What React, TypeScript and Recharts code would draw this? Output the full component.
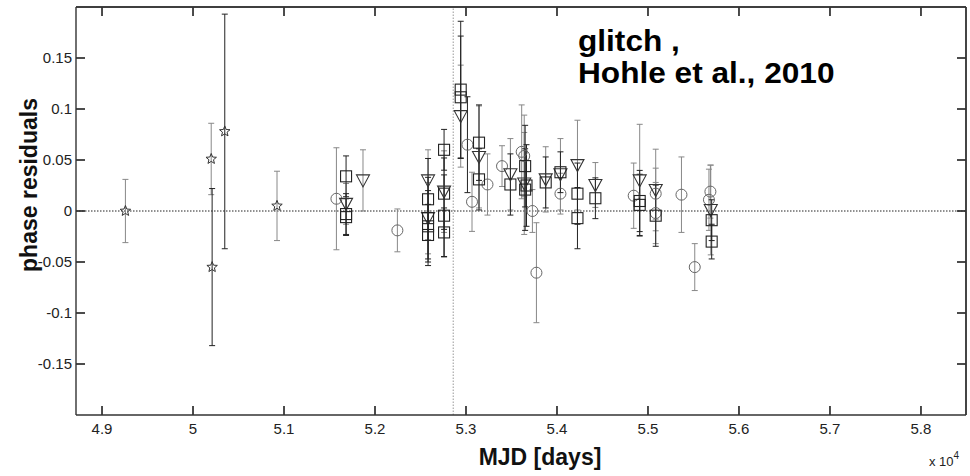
import React from 'react';
import { ScatterChart, Scatter, XAxis, YAxis, ErrorBar, ReferenceLine } from 'recharts';

type Row = [number, number, number]; // [MJD, residual, error]

const xTicks = [49000, 50000, 51000, 52000, 53000, 54000, 55000, 56000, 57000, 58000];
const yTicks = [-0.15, -0.1, -0.05, 0, 0.05, 0.1, 0.15];
const xDomain = [48714, 58495];
const yDomain = [-0.2, 0.2];
const glitchMJD = 52860;

const starsGrayErr: Row[] = [
  [49257, 0.0, 0.031],
  [50200, 0.051, 0.035],
  [50923, 0.005, 0.034],
];
const starsBlackErr: Row[] = [
  [50210, -0.055, 0.077],
  [50349, 0.078, 0.115],
];

const circlesGrayErr: Row[] = [
  [51576, 0.012, 0.05],
  [52246, -0.019, 0.021],
  [53066, 0.009, 0.029],
  [53236, 0.026, 0.03],
  [53396, 0.044, 0.02],
  [53612, 0.058, 0.046],
  [53640, 0.054, 0.04],
  [53730, 0.0, 0.021],
  [53774, -0.0605, 0.049],
  [54038, 0.017, 0.02],
  [54843, 0.015, 0.032],
  [55085, 0.017, 0.025],
  [55085, -0.002, 0.03],
  [55368, 0.016, 0.037],
  [55514, -0.055, 0.023],
  [55686, 0.019, 0.026],
  [55670, 0.011, 0.03],
];
const circlesBlackErr: Row[] = [
  [53016, 0.065, 0.047],
];

const squares: Row[] = [
  [51682, 0.034, 0.02],
  [51682, -0.003, 0.02],
  [51682, -0.006, 0.018],
  [52583, 0.0115, 0.04],
  [52583, -0.007, 0.04],
  [52583, -0.015, 0.035],
  [52583, -0.0235, 0.03],
  [52759, 0.06, 0.02],
  [52759, 0.017, 0.035],
  [52759, -0.0046, 0.04],
  [52759, -0.021, 0.024],
  [52942, 0.119, 0.067],
  [52942, 0.1115, 0.06],
  [53143, 0.067, 0.037],
  [53143, 0.031, 0.03],
  [53488, 0.026, 0.03],
  [53650, 0.044, 0.04],
  [53650, 0.021, 0.04],
  [53665, 0.025, 0.04],
  [53876, 0.028, 0.025],
  [54038, 0.038, 0.02],
  [54225, 0.017, 0.03],
  [54225, -0.007, 0.03],
  [54422, 0.0125, 0.02],
  [54909, 0.0098, 0.03],
  [54909, 0.006, 0.03],
  [55085, -0.0046, 0.03],
  [55700, -0.009, 0.02],
  [55700, -0.03, 0.017],
];

const triangles: Row[] = [
  [51682, 0.007, 0.02],
  [51868, 0.03, 0.03],
  [52583, 0.03, 0.03],
  [52583, -0.007, 0.035],
  [52759, 0.019, 0.04],
  [52942, 0.093, 0.05],
  [53143, 0.053, 0.05],
  [53488, 0.036, 0.035],
  [53640, 0.027, 0.05],
  [53876, 0.031, 0.032],
  [54038, 0.036, 0.035],
  [54225, 0.045, 0.044],
  [54422, 0.0255, 0.022],
  [54909, 0.03, 0.055],
  [55085, 0.0206, 0.04],
  [55690, 0.001, 0.044],
];

const toPts = (rows: Row[]) => rows.map(([x, y, err]) => ({ x, y, err }));

const starsGrayPts = toPts(starsGrayErr);
const starsBlackPts = toPts(starsBlackErr);
const circlesGrayPts = toPts(circlesGrayErr);
const circlesBlackPts = toPts(circlesBlackErr);
const squarePts = toPts(squares);
const trianglePts = toPts(triangles);

const FONT = '"Liberation Sans", Arial, Helvetica, sans-serif';
const AXIS = '#333';
const TICK_LEN = 9;
const OFF = 8; // default tickSize (6) + tickMargin (2)
// inward tick length (~9px) expressed as a fraction of each axis span
const TICK_DX = (xDomain[1] - xDomain[0]) * 0.0101;
const TICK_DY = (yDomain[1] - yDomain[0]) * 0.022;

const CircleShape = (p: any) => (
  <circle cx={p.cx} cy={p.cy} r={5.5} fill="none" stroke="#666" strokeWidth={1} />
);
const SquareShape = (p: any) => (
  <rect x={p.cx - 5.5} y={p.cy - 5.5} width={11} height={11} fill="none" stroke="#222" strokeWidth={1.1} />
);
const TriShape = (p: any) => (
  <path
    d={`M${p.cx - 6.5},${p.cy - 5.5}L${p.cx + 6.5},${p.cy - 5.5}L${p.cx},${p.cy + 6.5}Z`}
    fill="none"
    stroke="#333"
    strokeWidth={1.1}
  />
);
const StarShape = (p: any) => {
  const R = 5.5, r = 2.4;
  let d = '';
  for (let i = 0; i < 10; i++) {
    const a = -Math.PI / 2 + (i * Math.PI) / 5;
    const rad = i % 2 === 0 ? R : r;
    d += `${i === 0 ? 'M' : 'L'}${p.cx + rad * Math.cos(a)},${p.cy + rad * Math.sin(a)}`;
  }
  return <path d={d + 'Z'} fill="none" stroke="#333" strokeWidth={1} />;
};

const fmtX = (v: number) => String(Math.round(v / 100) / 100);
const fmtY = (v: number) => String(Math.round(v * 100) / 100);

const BottomTick = (p: any) => (
  <g>
    <line x1={p.x} x2={p.x} y1={p.y - OFF} y2={p.y - OFF - TICK_LEN} stroke={AXIS} strokeWidth={1.3} />
    <text x={p.x} y={p.y + 11} textAnchor="middle" fontSize={15} fontFamily={FONT} fill="#222">
      {fmtX(p.payload.value)}
    </text>
  </g>
);
const TopTick = (p: any) => (
  <line x1={p.x} x2={p.x} y1={p.y + OFF} y2={p.y + OFF + TICK_LEN} stroke={AXIS} strokeWidth={1.3} />
);
const LeftTick = (p: any) => (
  <g>
    <line x1={p.x + OFF} x2={p.x + OFF + TICK_LEN} y1={p.y} y2={p.y} stroke={AXIS} strokeWidth={1.3} />
    <text x={p.x + 4} y={p.y + 5} textAnchor="end" fontSize={15} fontFamily={FONT} fill="#222">
      {fmtY(p.payload.value)}
    </text>
  </g>
);
const RightTick = (p: any) => (
  <line x1={p.x - OFF} x2={p.x - OFF - TICK_LEN} y1={p.y} y2={p.y} stroke={AXIS} strokeWidth={1.3} />
);

export default function App() {
  return (
    <div style={{ position: 'fixed', left: 0, top: 0, width: 970, height: 476, background: '#fff' }}>
      <div style={{ position: 'absolute', left: 29, top: 185, transform: 'translate(-50%, -50%) rotate(-90deg)', fontSize: 23, fontWeight: 'bold', whiteSpace: 'nowrap', color: '#111', fontFamily: FONT }}>
        phase residuals
      </div>
      <div style={{ position: 'absolute', left: 540, top: 457, transform: 'translate(-50%, -50%)', fontSize: 23, fontWeight: 'bold', whiteSpace: 'nowrap', color: '#111', fontFamily: FONT }}>
        MJD [days]
      </div>
      <div style={{ position: 'absolute', left: 929, top: 452, fontSize: 13, color: '#222', whiteSpace: 'nowrap', fontFamily: FONT }}>
        x 10<sup style={{ fontSize: 10, position: 'relative', top: -2 }}>4</sup>
      </div>
      <div style={{ position: 'absolute', left: 578, top: 25, fontSize: 29, fontWeight: 'bold', lineHeight: '32px', color: '#000', whiteSpace: 'nowrap', transform: 'scaleX(1.09)', transformOrigin: 'left top', fontFamily: FONT }}>
        glitch ,
        <br />
        Hohle et al., 2010
      </div>
      <ScatterChart width={970} height={476} margin={{ top: 0, right: 1, bottom: 0, left: 0 }}>
        <XAxis xAxisId="b" type="number" dataKey="x" domain={[48714, 58495]} ticks={xTicks} orientation="bottom" height={61} interval={0} tickLine={false} stroke={AXIS} strokeWidth={1.4} tick={BottomTick} />
        <XAxis xAxisId="t" type="number" dataKey="x" domain={[48714, 58495]} ticks={xTicks} orientation="top" height={7} interval={0} tickLine={false} stroke={AXIS} strokeWidth={1.4} tick={TopTick} />
        <YAxis yAxisId="l" type="number" dataKey="y" domain={[-0.2, 0.2]} ticks={yTicks} width={76} interval={0} tickLine={false} stroke={AXIS} strokeWidth={1.4} tick={LeftTick} />
        <YAxis yAxisId="r" orientation="right" type="number" dataKey="y" domain={[-0.2, 0.2]} ticks={yTicks} width={3} interval={0} tickLine={false} stroke={AXIS} strokeWidth={1.4} tick={RightTick} />

        <ReferenceLine xAxisId="b" yAxisId="l" y={0} stroke="#222" strokeDasharray="1.5 1.5" strokeWidth={1} />
        <ReferenceLine xAxisId="b" yAxisId="l" x={glitchMJD} stroke="#aaa" strokeDasharray="1.5 1.5" strokeWidth={1.2} />

        {/* frame and inward ticks drawn through the axis scales as a fallback */}
        <ReferenceLine xAxisId="b" yAxisId="l" y={yDomain[1]} stroke={AXIS} strokeWidth={1.4} />
        <ReferenceLine xAxisId="b" yAxisId="l" x={xDomain[1]} stroke={AXIS} strokeWidth={1.4} />
        {xTicks.map((t) => (
          <ReferenceLine key={`xb${t}`} xAxisId="b" yAxisId="l" stroke={AXIS} strokeWidth={1.3}
            segment={[{ x: t, y: yDomain[0] }, { x: t, y: yDomain[0] + TICK_DY }]} />
        ))}
        {xTicks.map((t) => (
          <ReferenceLine key={`xt${t}`} xAxisId="b" yAxisId="l" stroke={AXIS} strokeWidth={1.3}
            segment={[{ x: t, y: yDomain[1] }, { x: t, y: yDomain[1] - TICK_DY }]} />
        ))}
        {yTicks.map((t) => (
          <ReferenceLine key={`yl${t}`} xAxisId="b" yAxisId="l" stroke={AXIS} strokeWidth={1.3}
            segment={[{ x: xDomain[0], y: t }, { x: xDomain[0] + TICK_DX, y: t }]} />
        ))}
        {yTicks.map((t) => (
          <ReferenceLine key={`yr${t}`} xAxisId="b" yAxisId="l" stroke={AXIS} strokeWidth={1.3}
            segment={[{ x: xDomain[1], y: t }, { x: xDomain[1] - TICK_DX, y: t }]} />
        ))}

        <Scatter xAxisId="t" yAxisId="r" data={starsGrayPts} shape={StarShape} isAnimationActive={false}>
          <ErrorBar dataKey="err" direction="y" width={3} stroke="#888" strokeWidth={1} />
        </Scatter>
        <Scatter xAxisId="b" yAxisId="l" data={starsBlackPts} shape={StarShape} isAnimationActive={false}>
          <ErrorBar dataKey="err" direction="y" width={3} stroke="#222" strokeWidth={1} />
        </Scatter>
        <Scatter xAxisId="b" yAxisId="l" data={circlesGrayPts} shape={CircleShape} isAnimationActive={false}>
          <ErrorBar dataKey="err" direction="y" width={3} stroke="#888" strokeWidth={1} />
        </Scatter>
        <Scatter xAxisId="b" yAxisId="l" data={circlesBlackPts} shape={CircleShape} isAnimationActive={false}>
          <ErrorBar dataKey="err" direction="y" width={3} stroke="#222" strokeWidth={1} />
        </Scatter>
        <Scatter xAxisId="b" yAxisId="l" data={trianglePts} shape={TriShape} isAnimationActive={false}>
          <ErrorBar dataKey="err" direction="y" width={3} stroke="#888" strokeWidth={1} />
        </Scatter>
        <Scatter xAxisId="b" yAxisId="l" data={squarePts} shape={SquareShape} isAnimationActive={false}>
          <ErrorBar dataKey="err" direction="y" width={3} stroke="#222" strokeWidth={1} />
        </Scatter>
      </ScatterChart>
    </div>
  );
}
